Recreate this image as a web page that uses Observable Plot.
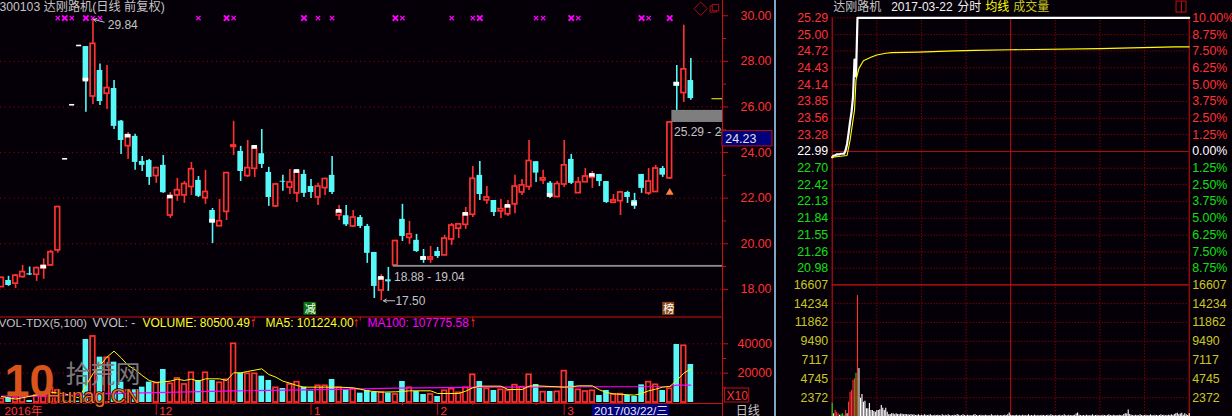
<!DOCTYPE html>
<html><head><meta charset="utf-8">
<script src="https://cdn.jsdelivr.net/npm/d3@7"></script>
<script src="https://cdn.jsdelivr.net/npm/@observablehq/plot@0.6"></script>
<style>
html,body{margin:0;padding:0;background:#050008;overflow:hidden}
#w{position:relative;width:1232px;height:416px;background:#050008;overflow:hidden}
#w>*{position:absolute}
#strip{left:773.5px;top:0;width:2.5px;height:416px;background:#7fa6c4}
</style></head><body><div id="w"><div id="strip"></div></div>
<script>
const FONT='"Liberation Sans","Noto Sans CJK SC",sans-serif';
const RED="#ff3232",CYAN="#56f8f8",BG="#050008",GRID="#a00000",GRAY="#c4c4c4",YEL="#ffff00",DYEL="#c8c820",GRN="#10e010";

// ---- daily candles (前复权) ----
const opens=[18.10,18.39,18.25,18.54,18.68,18.64,18.92,19.05,19.71,23.70,26.07,28.67,28.65,26.46,27.60,26.58,26.81,25.38,24.28,24.71,23.61,23.65,22.97,23.44,21.24,22.12,22.12,22.49,22.78,22.00,21.46,20.77,21.40,24.25,24.05,22.97,23.29,23.95,23.13,21.64,22.74,22.46,22.21,23.04,22.51,22.03,22.44,23.00,21.24,21.23,20.76,21.15,20.76,19.62,17.95,18.42,19.05,21.07,20.26,20.15,19.42,19.31,19.66,19.49,20.19,20.66,20.83,21.27,23.00,21.90,21.90,21.42,21.29,21.73,22.25,22.49,23.60,22.78,22.66,22.05,22.60,23.70,22.22,22.70,22.89,23.04,22.73,21.80,21.87,22.25,21.90,23.04,22.21,22.27,23.30,22.87,27.08,26.61,27.16];
const closes=[18.51,18.17,18.60,18.76,18.63,18.93,19.02,19.63,21.61,23.70,26.07,28.67,27.16,28.77,26.24,26.83,25.15,24.53,24.75,23.57,23.44,22.91,23.32,22.24,22.05,22.35,22.62,23.27,22.08,22.27,20.91,20.99,23.10,24.31,23.17,23.32,24.17,23.48,22.03,22.60,22.70,22.69,23.13,22.21,22.25,22.51,22.84,22.25,21.42,20.83,21.15,20.76,19.58,18.13,18.48,18.33,20.12,20.32,20.41,19.66,19.27,19.40,19.44,20.23,20.80,20.85,21.29,22.85,22.16,22.03,21.37,21.52,21.64,22.51,22.56,23.63,23.10,22.87,22.05,22.62,23.44,22.65,22.69,22.95,23.00,22.73,21.81,21.90,22.25,22.03,21.64,22.43,22.73,23.30,23.01,25.32,26.90,27.65,26.37];
const highs=[18.51,18.57,18.65,19.05,18.98,18.98,19.34,19.71,21.64,23.70,26.07,28.67,28.65,29.84,27.89,27.82,27.16,25.41,24.88,24.80,23.83,23.70,23.32,23.87,22.25,22.87,22.73,23.57,22.95,23.22,21.55,21.94,23.13,25.37,24.27,24.53,24.31,25.01,23.35,22.65,23.00,23.26,23.26,23.22,22.82,22.65,22.87,23.83,21.68,21.68,21.46,21.24,20.85,19.62,18.65,18.96,20.15,21.73,20.98,20.41,19.75,19.88,19.84,20.37,20.89,20.89,21.59,23.39,23.61,22.51,21.90,21.94,21.90,23.00,22.82,24.53,23.60,23.22,22.73,22.73,24.53,23.92,22.91,23.30,23.17,23.04,22.73,22.16,22.30,22.30,22.21,23.04,23.30,23.44,23.39,25.37,27.82,29.58,28.13];
const lows=[18.10,18.13,18.04,18.49,18.61,18.35,18.44,19.02,19.59,23.70,26.07,28.67,25.77,26.11,26.07,25.89,25.01,23.92,23.70,23.22,23.17,22.56,22.65,22.21,21.11,21.86,21.77,22.12,22.03,21.73,20.01,20.77,21.02,23.87,22.73,22.91,22.91,23.30,21.64,21.59,22.30,22.16,21.81,22.03,21.99,21.68,22.12,22.16,21.02,20.76,20.72,20.67,19.14,17.60,17.50,17.91,19.05,20.10,19.97,19.62,19.14,19.14,19.36,19.49,19.93,20.23,20.63,21.15,21.90,21.73,21.20,21.11,21.20,21.32,22.12,22.34,22.69,22.60,21.99,22.03,22.47,22.60,22.21,22.69,22.43,22.51,21.77,21.77,21.24,21.77,21.51,22.21,22.12,22.25,22.91,22.82,25.85,26.20,26.29];
const markIdx=[6,12,18,24,30,36,42,48,54,60,66,72,78,84,90,96];
const markPrice=[18.98,27.18,24.72,22.05,20.99,24.23,23.17,21.42,18.48,19.36,21.29,21.64,22.12,23.00,21.75,27.00];
const dashIdx=[9,10,11];
const signalBig=[9,12,32,43,56,68,81,91,95];
const signalSmall=[8,10,13,14,28,33,45,47,57,64,67,76,77,82,92];
const priceTicks=[18,20,22,24,26,28,30];
const priceMinor=[19,21,23,25,27,29];
const gridPrices=[18,20,22,24,26,28];

// ---- daily volume ----
const volumes=[2500,3180,2955,3635,1365,4775,4090,10000,8180,910,910,910,42960,45000,30910,30460,27500,13865,8180,8640,10455,13865,13180,22500,12730,16365,12275,20230,15000,20230,15000,13410,15455,40000,20000,19550,19550,17955,15000,10000,9545,12275,13865,10455,7730,11365,11365,15680,10000,8640,9090,6365,8180,7045,6820,6365,5455,14320,10000,7500,5455,5455,4090,7955,9090,6590,10000,18865,14320,9320,8180,8640,8180,11820,10455,18865,12275,7045,7500,7270,21365,14320,8640,7500,7955,4775,8180,5455,5680,4775,4090,12045,13865,12045,8180,9320,39550,38640,25910];
const ma5Idx=[0,2,7,9,11,12,13,14,15,16,17,18,19,20,21,22,23,24,25,26,27,28,29,31,32,33,34,35,37,38,39,40,41,42,43,45,48,50,51,52,54,56,57,58,61,62,65,66,67,68,71,72,74,75,76,80,81,82,84,85,86,87,90,91,92,93,94,95,96,97,98];
const ma5=[4090,2270,7045,5910,3180,11590,19550,25230,30910,35000,30460,25230,22275,18410,15000,13640,14090,14545,15910,15000,15910,14545,16140,16140,15000,20230,20230,21140,22955,19090,17275,14545,13180,11590,10455,10455,10455,10000,9090,7955,7045,7270,7500,7955,7955,6135,6135,7730,10000,11140,11140,8865,8865,11140,11365,10455,10680,11365,11365,8640,6820,5910,5000,6135,7955,9090,10455,10910,15000,20000,22955];
const ma100Idx=[0,7,14,33,50,56,70,95,96,98];
const ma100=[4320,4320,5910,7955,9090,9770,10455,10910,11820,11820];
const volTicks=[20000,40000], volMinor=[10000,30000];
const monthIdx=[22,44,62,80], monthTickMinor=[27,33,57,67,76];
const monthLabelIdx=[0,22,44,62,80], monthLabels=["2016年","12","1","2","3"];
const sideTicks=[36,51,67];

// ---- intraday ----
const priceMin=[0,1,2,3,4,5,6,7,8,9,10,11,12,13,14,15,16,17,240];
const priceVal=[22.89,22.92,22.92,22.94,22.94,22.94,22.95,22.95,22.95,23.01,23.12,23.30,23.50,23.67,23.93,24.57,24.28,25.29,25.29];
const avgMin=[0,10,12,15,16,18,21,26,30,36,40,58,82,96,120,180,230,240];
const avgVal=[22.89,22.92,23.18,23.70,24.22,24.42,24.55,24.61,24.65,24.68,24.69,24.70,24.72,24.73,24.74,24.76,24.79,24.79];
const upPrices=[25.29,25.00,24.72,24.43,24.14,23.85,23.56,23.28];
const prevClose=[22.99];
const downPrices=[22.70,22.42,22.13,21.84,21.55,21.26,20.98];
const upPct=["10.00%","8.75%","7.50%","6.25%","5.00%","3.75%","2.50%","1.25%"];
const downPct=["1.25%","2.50%","3.75%","5.00%","6.25%","7.50%","8.75%"];
const hourLines=[120], halfLines=[30,60,90,150,180,210], edgeLines=[0,240];
const minVolTicks=[16607,14234,11862,9490,7117,4745,2372];
const minuteVol=[1680,336,756,546,336,168,210,336,168,756,336,1806,3066,3276,4536,4746,5460,15246,
6048,2310,2772,1806,1932,966,966,1638,756,756,630,546,756,756,840,1386,1050,756,1050,546,210,252,336,336,210,336,252,210,300,294,210,252,210,
210,170,250,170,210,130,170,210,130,170,
130,210,170,130,170,210,130,90,170,130,
170,130,90,210,130,170,130,210,130,90,
130,170,130,250,170,90,130,210,130,90,
170,130,90,130,170,250,130,90,130,170,
90,130,170,130,90,130,210,130,90,130,
170,90,130,90,130,170,130,210,440,170,
130,90,130,170,90,130,90,170,130,90,
130,210,90,130,90,170,130,90,130,90,
170,130,90,130,170,90,210,130,90,130,
90,130,170,90,130,210,130,90,170,130,
90,130,170,300,440,170,130,90,130,90,
170,130,90,130,210,90,130,170,90,130,
90,170,130,90,130,210,130,90,170,130,
90,130,170,130,90,250,340,300,820,250,
170,130,90,170,130,90,210,130,90,130,
170,90,130,210,130,90,170,130,90,130,
210,130,170,90,130,170,130,210,130,250,
340,420,210,300,400,170,340,210,130,340];
const greenMin=[0,6,7,16], whiteMin=[1,5,10];

// ---- tables for the marks ----
const candles=opens.map((o,i)=>({i,o,c:closes[i],h:highs[i],l:lows[i],
  top:Math.max(o,closes[i]),bot:Math.min(o,closes[i]),up:closes[i]>=o,v:volumes[i],dash:dashIdx.includes(i)}));
const real=candles.filter(d=>!d.dash);
const BW=0.33, CW=0.40;
const marks=markIdx.map((i,k)=>({i,p:markPrice[k]}));
const dashes=candles.filter(d=>d.dash);
const mv=minuteVol.map((v,m)=>({m,v,color:greenMin.includes(m)?GRN:whiteMin.includes(m)||m>=18?"#ffffff":RED}));

function place(el,l,t){el.style.left=l+"px";el.style.top=t+"px";document.getElementById("w").appendChild(el);}
const st={background:"transparent",fontFamily:FONT,fontSize:"12.4px",overflow:"visible"};
const T=(s,o)=>Plot.text([s],{frameAnchor:"top-left",textAnchor:"start",fontFamily:FONT,fontSize:12,...o});

// ---- top-left: candles ----
place(Plot.plot({width:773,height:316,marginTop:0,marginBottom:0,marginLeft:0,marginRight:51,style:st,
  x:{domain:[-0.142,102.5],axis:null,label:null},y:{domain:[16.81,30.67],axis:null,label:null},
  marks:[
    Plot.ruleY(gridPrices,{stroke:GRID,strokeDasharray:"1 3.5",strokeWidth:1}),
    Plot.ruleX(real,{x:"i",y1:"l",y2:"h",stroke:d=>d.up?RED:CYAN,strokeWidth:1.6}),
    Plot.rect(real.filter(d=>!d.up),{x1:d=>d.i-CW,x2:d=>d.i+CW,y1:"bot",y2:"top",fill:CYAN}),
    Plot.rect(real.filter(d=>d.up),{x1:d=>d.i-BW,x2:d=>d.i+BW,y1:"bot",y2:"top",fill:BG,stroke:RED,strokeWidth:1.7}),
    Plot.rect(marks,{x1:d=>d.i-CW,x2:d=>d.i+CW,y1:d=>d.p-0.08,y2:d=>d.p+0.08,fill:"#ffffff"}),
    Plot.rect(dashes,{x1:d=>d.i-0.32,x2:d=>d.i+0.4,y1:d=>d.o-0.03,y2:d=>d.o+0.04,fill:"#ffffff"}),
    Plot.dot(signalBig,{x:d=>d,y:()=>29.9,symbol:"times",r:2.6,stroke:"#ff00ff",strokeWidth:1.9}),
    Plot.dot(signalSmall,{x:d=>d,y:()=>29.9,symbol:"times",r:2.1,stroke:"#ff00ff",strokeWidth:1.2}),
    Plot.rect([{x1:55.7,x2:102.5,y1:18.97,y2:19.05}],{x1:"x1",x2:"x2",y1:"y1",y2:"y2",fill:"#8c8c8c"}),
    Plot.rect([{x1:95.3,x2:102.5,y1:25.32,y2:25.85}],{x1:"x1",x2:"x2",y1:"y1",y2:"y2",fill:"#7e7e7e"}),
    Plot.ruleY([26.36],{x1:101,x2:102.5,stroke:YEL,strokeWidth:1}),
    Plot.ruleY([24.87],{x1:101.85,x2:102.5,stroke:GRN,strokeWidth:1}),
    Plot.dot([{i:95,p:22.25}],{x:"i",y:"p",symbol:"triangle",r:2.9,fill:"#ff7f3f"}),
    Plot.arrow([{a:14.6,b:29.72,c:13.1,d:29.84}],{x1:"a",y1:"b",x2:"c",y2:"d",stroke:GRAY,strokeWidth:1,headLength:5}),
    Plot.text(["29.84"],{x:()=>15.1,y:()=>29.58,textAnchor:"start",fill:GRAY,fontSize:12,fontFamily:FONT}),
    Plot.arrow([{a:55.9,b:17.5,c:54.3,d:17.5}],{x1:"a",y1:"b",x2:"c",y2:"d",stroke:GRAY,strokeWidth:1,headLength:5}),
    Plot.text(["17.50"],{x:()=>56,y:()=>17.5,textAnchor:"start",fill:GRAY,fontSize:12,fontFamily:FONT}),
    Plot.text(["18.88 - 19.04"],{x:()=>55.8,y:()=>18.54,textAnchor:"start",fill:GRAY,fontSize:12,fontFamily:FONT}),
    Plot.text(["25.29 - 25.85"],{x:()=>95.6,y:()=>24.88,textAnchor:"start",fill:GRAY,fontSize:12,fontFamily:FONT,clip:true}),
    Plot.rect([{x1:43,x2:44.8,y1:16.86,y2:17.43}],{x1:"x1",x2:"x2",y1:"y1",y2:"y2",fill:"#087008"}),
    Plot.text(["减"],{x:()=>43.9,y:()=>17.14,fill:"#ffffff",fontSize:11,fontFamily:FONT}),
    Plot.rect([{x1:94,x2:95.7,y1:16.86,y2:17.43}],{x1:"x1",x2:"x2",y1:"y1",y2:"y2",fill:"#8a4a18"}),
    Plot.text(["榜"],{x:()=>94.85,y:()=>17.14,fill:"#ffffff",fontSize:11,fontFamily:FONT}),
    Plot.dot([{i:99.4,p:30.31}],{x:"i",y:"p",symbol:"diamond2",r:6,stroke:"#a81010",strokeWidth:1}),
    Plot.dot([{i:101.2,p:30.3},{i:101.5,p:30.36}],{x:"i",y:"p",symbol:"square",r:3.6,stroke:"#a81010",strokeWidth:1,fill:BG}),
    T("300103 达刚路机(日线 前复权)",{dx:-1,dy:2,fill:GRAY,fontSize:12.2}),
    Plot.ruleX([102.5],{stroke:"#d01010",strokeWidth:1}),
    Plot.axisY(priceTicks,{anchor:"right",label:null,tickSize:5,tickPadding:13,stroke:"#d01010",fill:RED,tickFormat:d3.format(".2f"),fontSize:12.4}),
    Plot.axisY(priceMinor,{anchor:"right",label:null,tickSize:3,stroke:"#d01010",tickFormat:()=>""}),
    Plot.rect([{x1:102.5,x2:109.6,y1:24.27,y2:24.94}],{x1:"x1",x2:"x2",y1:"y1",y2:"y2",fill:"#00007c",stroke:"#c01010",strokeWidth:1}),
    Plot.text(["24.23"],{x:()=>102.9,y:()=>24.6,textAnchor:"start",fill:"#e0e0e0",fontSize:12.4,fontFamily:FONT})
  ]}),0,0);

// ---- bottom-left: volume ----
const yTop=58260,yAxis=-680;
place(Plot.plot({width:773,height:100,marginTop:0,marginBottom:14,marginLeft:0,marginRight:51,style:st,
  x:{domain:[-0.142,102.5],axis:null,label:null},y:{domain:[0,58603],axis:null,label:null},
  marks:[
    Plot.ruleY(volTicks,{stroke:GRID,strokeDasharray:"1 3.5"}),
    Plot.rect(candles.filter(d=>!d.up||d.dash),{x1:d=>d.i-CW,x2:d=>d.i+CW,y1:0,y2:"v",fill:CYAN}),
    Plot.rect(candles.filter(d=>d.up&&!d.dash),{x1:d=>d.i-BW,x2:d=>d.i+BW,y1:0,y2:"v",fill:BG,stroke:RED,strokeWidth:1.7}),
    Plot.line(ma100.map((v,k)=>({i:ma100Idx[k],v})),{x:"i",y:"v",stroke:"#ff00ff",strokeWidth:1.2}),
    Plot.line(ma5.map((v,k)=>({i:ma5Idx[k],v})),{x:"i",y:"v",stroke:YEL,strokeWidth:1}),
    Plot.ruleY([yTop],{stroke:"#d01010",strokeWidth:1.2}),
    Plot.ruleX(sideTicks,{y1:yTop,y2:yTop-2800,stroke:"#d01010"}),
    Plot.ruleY([yAxis],{stroke:"#d01010",strokeWidth:1}),
    Plot.axisX(monthIdx,{anchor:"bottom",label:null,tickSize:13,stroke:"#d01010",tickFormat:()=>""}),
    Plot.axisX(monthTickMinor,{anchor:"bottom",label:null,tickSize:3,stroke:"#d01010",tickFormat:()=>""}),
    Plot.text(monthLabels,{x:(d,i)=>monthLabelIdx[i],frameAnchor:"bottom",dy:12,textAnchor:"start",dx:3,fill:RED,fontSize:11.8,fontFamily:FONT,lineAnchor:"bottom"}),
    Plot.rect([{x1:84,x2:95,y1:-1600,y2:-10000}],{x1:"x1",x2:"x2",y1:"y1",y2:"y2",fill:"#00007c"}),
    Plot.text(["2017/03/22/三"],{x:()=>89.5,y:()=>-5900,fill:"#e8e8e8",fontSize:11.8,fontFamily:FONT}),
    // watermark
    T("拾荒网",{dx:65,dy:49,fill:"#7a7a7a",fontSize:25}),
    T("Hunag.CN",{dx:46,dy:72,fill:"#f07020",stroke:BG,strokeWidth:1.5,fontSize:20}),
    T("10",{dx:4,dy:48,fill:"#d8541c",fontSize:45,fontWeight:"bold"}),
    T("VOL-TDX(5,100)",{dx:-2,dy:2,fill:GRAY,fontSize:11.8}),
    T("VVOL: -",{dx:92,dy:2,fill:GRAY,fontSize:12}),
    T("VOLUME: 80500.49",{dx:142,dy:2,fill:"#ffff20",fontSize:12}),
    T("↑",{dx:249,dy:1,fill:RED,fontSize:14,fontWeight:"bold"}),
    T("MA5: 101224.00",{dx:265,dy:2,fill:"#ffff20",fontSize:12}),
    T("↑",{dx:352,dy:1,fill:RED,fontSize:14,fontWeight:"bold"}),
    T("MA100: 107775.58",{dx:367,dy:2,fill:"#ff00ff",fontSize:12}),
    T("↑",{dx:469,dy:1,fill:RED,fontSize:14,fontWeight:"bold"}),
    Plot.ruleX([102.5],{y1:yTop,y2:-20000,stroke:"#d01010",strokeWidth:1}),
    Plot.axisY(volTicks,{anchor:"right",label:null,tickSize:5,tickPadding:10,stroke:"#d01010",fill:RED,tickFormat:d3.format("d"),fontSize:12.4}),
    Plot.axisY(volMinor,{anchor:"right",label:null,tickSize:3,stroke:"#d01010",tickFormat:()=>""}),
    Plot.rect([{x1:102.85,x2:106.3,y1:0,y2:9540}],{x1:"x1",x2:"x2",y1:"y1",y2:"y2",stroke:"#c01010",strokeWidth:1}),
    Plot.text(["X10"],{x:()=>104.6,y:()=>4600,fill:RED,fontSize:12,fontFamily:FONT}),
    Plot.text(["日线"],{x:()=>106.1,y:()=>-5900,fill:GRAY,fontSize:12,fontFamily:FONT})
  ]}),0,316);

// ---- top-right: intraday price ----
const xMin={domain:[0,240],axis:null,label:null};
const minGrid=[
  Plot.ruleX(halfLines,{stroke:"#b00000",strokeDasharray:"1 2",strokeWidth:1}),
  Plot.ruleX(hourLines,{stroke:"#c01010",strokeWidth:1}),
  Plot.ruleX(edgeLines,{stroke:"#d01010",strokeWidth:1})
];
place(Plot.plot({width:457,height:284,marginTop:17.3,marginBottom:0,marginLeft:56.7,marginRight:43.3,style:st,
  x:xMin,y:{domain:[20.7,25.29],axis:null,label:null},
  marks:[
    ...minGrid,
    Plot.ruleY(upPrices.concat(downPrices),{stroke:"#b00000",strokeDasharray:"1 2"}),
    Plot.ruleY(prevClose,{stroke:"#b01010",strokeWidth:1}),
    Plot.axisY(upPrices,{anchor:"left",label:null,tickSize:0,tickPadding:4,fill:RED,tickFormat:d3.format(".2f"),fontSize:12.4}),
    Plot.axisY(prevClose,{anchor:"left",label:null,tickSize:0,tickPadding:4,fill:"#ffffff",tickFormat:d3.format(".2f"),fontSize:12.4}),
    Plot.axisY(downPrices,{anchor:"left",label:null,tickSize:0,tickPadding:4,fill:GRN,tickFormat:d3.format(".2f"),fontSize:12.4}),
    Plot.axisY(upPrices,{anchor:"right",label:null,tickSize:0,tickPadding:3,fill:RED,tickFormat:(d,i)=>upPct[i],fontSize:12.4}),
    Plot.axisY(prevClose,{anchor:"right",label:null,tickSize:0,tickPadding:3,fill:"#ffffff",tickFormat:()=>"0.00%",fontSize:12.4}),
    Plot.axisY(downPrices,{anchor:"right",label:null,tickSize:0,tickPadding:3,fill:GRN,tickFormat:(d,i)=>downPct[i],fontSize:12.4}),
    Plot.line(priceMin.map((m,k)=>({m,p:priceVal[k]})),{x:"m",y:"p",stroke:"#ffffff",strokeWidth:2.2}),
    Plot.line(avgMin.map((m,k)=>({m,p:avgVal[k]})),{x:"m",y:"p",stroke:YEL,strokeWidth:1.1}),
    T("达刚路机",{dx:1,dy:-15.5,fill:GRAY}),
    T("2017-03-22",{dx:59,dy:-15.5,fill:"#f0f0f0"}),
    T("分时",{dx:125,dy:-15.5,fill:"#f0f0f0"}),
    T("均线",{dx:153,dy:-15.5,fill:YEL}),
    T("成交量",{dx:181,dy:-15.5,fill:DYEL}),
    Plot.rect([{a:231.5,b:238.2,c:25.38,d:25.57}],{x1:"a",x2:"b",y1:"c",y2:"d",stroke:"#c01010",strokeWidth:1}),
    Plot.ruleX([234.8],{y1:25.38,y2:25.57,stroke:"#c01010",strokeWidth:1})
  ]}),775,0);

// ---- bottom-right: intraday volume ----
place(Plot.plot({width:457,height:132,marginTop:0.3,marginBottom:0,marginLeft:56.7,marginRight:43.3,style:st,
  x:xMin,y:{domain:[0,16607],axis:null,label:null},
  marks:[
    ...minGrid,
    Plot.ruleY(minVolTicks.slice(1),{stroke:"#b00000",strokeDasharray:"1 2"}),
    Plot.ruleY([minVolTicks[0]],{stroke:"#d01010",strokeWidth:1.2}),
    Plot.ruleX(mv,{x:"m",y1:0,y2:"v",stroke:"color",strokeWidth:1.1}),
    Plot.axisY(minVolTicks,{anchor:"left",label:null,tickSize:0,tickPadding:4,fill:DYEL,tickFormat:d3.format("d"),fontSize:12.4}),
    Plot.axisY(minVolTicks,{anchor:"right",label:null,tickSize:0,tickPadding:3,fill:DYEL,tickFormat:d3.format("d"),fontSize:12.4})
  ]}),775,284);
</script></body></html>
